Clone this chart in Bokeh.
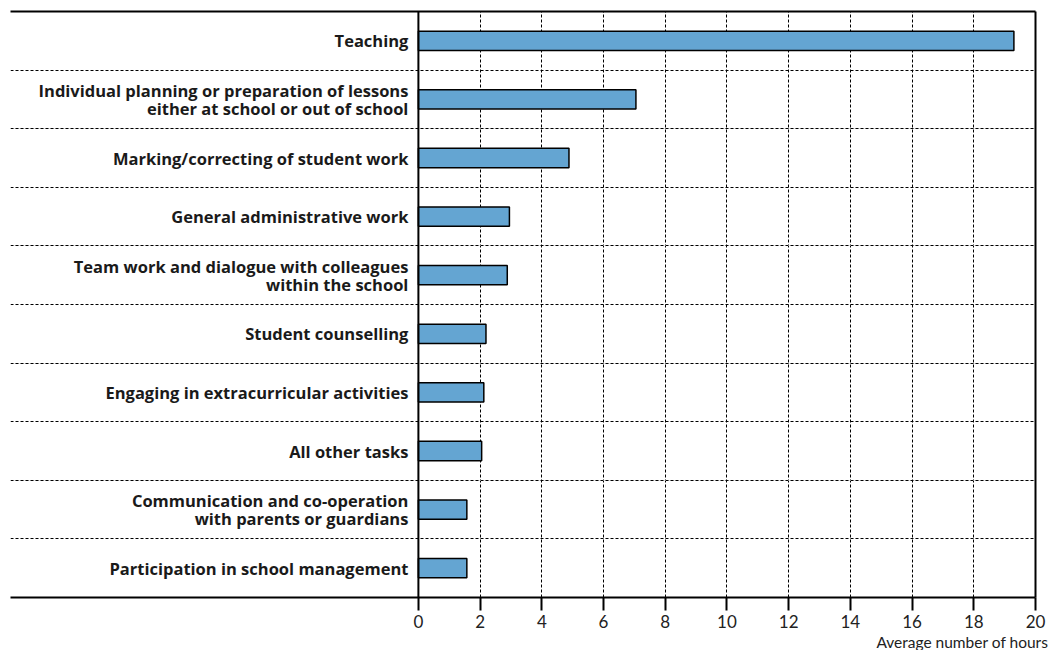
from bokeh.plotting import figure
from bokeh.models import Range1d, FixedTicker, Span, Title, Grid, ColumnDataSource, LinearAxis
from bokeh.core.properties import value
from bokeh.embed import file_html
from bokeh.resources import INLINE

categories = [
    "Teaching",
    "Individual planning or preparation of lessons\neither at school or out of school",
    "Marking/correcting of student work",
    "General administrative work",
    "Team work and dialogue with colleagues\nwithin the school",
    "Student counselling",
    "Engaging in extracurricular activities",
    "All other tasks",
    "Communication and co-operation\nwith parents or guardians",
    "Participation in school management",
]
hours = [19.3, 7.05, 4.88, 2.95, 2.88, 2.19, 2.12, 2.05, 1.57, 1.57]
x_ticks = [0, 2, 4, 6, 8, 10, 12, 14, 16, 18, 20]
x_title = "Average number of hours"

n = len(categories)
ys = [n - i - 0.5 for i in range(n)]
src = ColumnDataSource(dict(y=ys, v=hours, lab=categories, x0=[0] * n))

p = figure(width=1050, height=650, output_backend="svg", toolbar_location=None,
           x_range=Range1d(-13.22, 20), y_range=Range1d(0, n),
           y_axis_location=None, min_border_left=10, min_border_right=15,
           min_border_top=11, min_border_bottom=53)
p.outline_line_color = None
p.background_fill_color = "white"

# grids
p.xgrid.ticker = FixedTicker(ticks=x_ticks[1:-1])
p.xgrid.grid_line_color = "black"
p.xgrid.grid_line_dash = "3 2"
p.xgrid.grid_line_width = 1
ygrid = Grid(dimension=1, ticker=FixedTicker(ticks=list(range(1, n))),
             grid_line_color="black", grid_line_dash="3 2", grid_line_width=1)
p.add_layout(ygrid)

# x axis
ax = p.xaxis[0]
ax.ticker = FixedTicker(ticks=x_ticks)
ax.axis_line_width = 2
ax.axis_line_color = "black"
ax.major_tick_out = 13
ax.major_tick_in = 0
ax.major_tick_line_width = 2
ax.minor_tick_line_color = None
ax.major_label_text_font = "Lato"
ax.major_label_text_font_size = "17px"
ax.major_label_text_color = "#222222"
ax.major_label_standoff = 4

# top and right border lines
for loc in ("above", "right"):
    b = LinearAxis(ticker=FixedTicker(ticks=[]), axis_line_width=2, axis_line_color="black",
                   major_tick_out=0, major_tick_in=0, minor_tick_out=0, minor_tick_in=0,
                   major_label_text_font_size="0px")
    p.add_layout(b, loc)

p.add_layout(Span(location=0, dimension="height", line_color="black", line_width=2))

p.hbar(y="y", left="x0", right="v", height=0.33, source=src,
       fill_color="#64a5d2", line_color="black", line_width=1.5)

p.text(x="x0", y="y", text="lab", source=src, x_offset=-10,
       text_align="right", text_baseline="middle",
       text_font=value("Open Sans"), text_font_style="bold", text_font_size="16.5px",
       text_color="#1a1a1a", text_line_height=0.8)

p.add_layout(Title(text=x_title, align="right", offset=-13, standoff=0,
                   text_font="Lato", text_font_size="15.5px", text_font_style="normal",
                   text_color="#222222"), "below")

open("out.html", "w").write(file_html(p, INLINE))
